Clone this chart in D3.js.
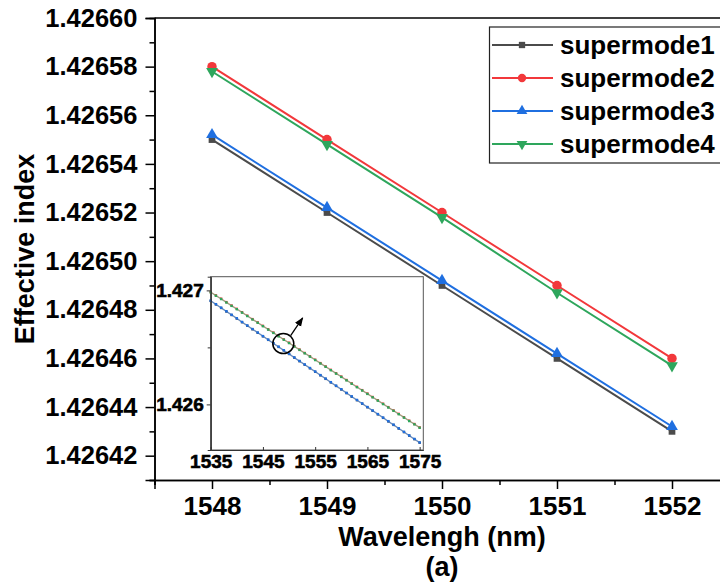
<!DOCTYPE html>
<html lang="en">
<head>
<meta charset="UTF-8">
<title>Effective index</title>
<script src="https://cdn.jsdelivr.net/npm/d3@7/dist/d3.min.js"></script>
<style>
  body { margin: 0; background: #fff; }
  svg text { font-family: "Liberation Sans", Arial, sans-serif; font-weight: bold; fill: #000; }
  .axis path, .axis line { stroke: #000; stroke-width: 1.5px; }
  .inset .axis path, .inset .axis line { stroke-width: 1px; stroke: #333; }
</style>
</head>
<body>
<div id="chart"></div>
<script>
// main chart data
var wavelength = [1548, 1549, 1550, 1551, 1552];
var supermode1 = [1.426550, 1.426520, 1.426490, 1.426460, 1.426430];
var supermode2 = [1.426580, 1.426550, 1.426520, 1.426490, 1.426460];
var supermode3 = [1.426552, 1.426522, 1.426492, 1.426462, 1.426432];
var supermode4 = [1.426578, 1.426548, 1.426518, 1.426487, 1.426457];
var xTicks = [1548, 1549, 1550, 1551, 1552];
var xMinor = [1547.5, 1548.5, 1549.5, 1550.5, 1551.5, 1552.5];
var yTicks = [1.42642, 1.42644, 1.42646, 1.42648, 1.42650, 1.42652, 1.42654, 1.42656, 1.42658, 1.42660];
var yMinor = [1.42641, 1.42643, 1.42645, 1.42647, 1.42649, 1.42651, 1.42653, 1.42655, 1.42657, 1.42659];

// inset data (1535-1575 nm)
var insetWl = [1535, 1536, 1537, 1538, 1539, 1540, 1541, 1542, 1543, 1544,
               1545, 1546, 1547, 1548, 1549, 1550, 1551, 1552, 1553, 1554,
               1555, 1556, 1557, 1558, 1559, 1560, 1561, 1562, 1563, 1564,
               1565, 1566, 1567, 1568, 1569, 1570, 1571, 1572, 1573, 1574, 1575];
var inset1 = [1.426908, 1.426877, 1.426846, 1.426815, 1.426784, 1.426753, 1.426721, 1.426690, 1.426659, 1.426628,
              1.426597, 1.426566, 1.426535, 1.426504, 1.426473, 1.426442, 1.426410, 1.426379, 1.426348, 1.426317,
              1.426286, 1.426255, 1.426224, 1.426193, 1.426162, 1.426131, 1.426099, 1.426068, 1.426037, 1.426006,
              1.425975, 1.425944, 1.425913, 1.425882, 1.425851, 1.425820, 1.425788, 1.425757, 1.425726, 1.425695, 1.425664];
var inset2 = [1.426986, 1.426956, 1.426927, 1.426897, 1.426867, 1.426838, 1.426808, 1.426778, 1.426748, 1.426719,
              1.426689, 1.426659, 1.426630, 1.426600, 1.426570, 1.426541, 1.426511, 1.426481, 1.426451, 1.426422,
              1.426392, 1.426362, 1.426333, 1.426303, 1.426273, 1.426244, 1.426214, 1.426184, 1.426154, 1.426125,
              1.426095, 1.426065, 1.426036, 1.426006, 1.425976, 1.425947, 1.425917, 1.425887, 1.425857, 1.425828, 1.425798];
var inset3 = [1.426910, 1.426879, 1.426848, 1.426817, 1.426786, 1.426755, 1.426723, 1.426692, 1.426661, 1.426630,
              1.426599, 1.426568, 1.426537, 1.426506, 1.426475, 1.426444, 1.426412, 1.426381, 1.426350, 1.426319,
              1.426288, 1.426257, 1.426226, 1.426195, 1.426164, 1.426133, 1.426101, 1.426070, 1.426039, 1.426008,
              1.425977, 1.425946, 1.425915, 1.425884, 1.425853, 1.425822, 1.425790, 1.425759, 1.425728, 1.425697, 1.425666];
var inset4 = [1.426983, 1.426953, 1.426924, 1.426894, 1.426864, 1.426835, 1.426805, 1.426775, 1.426745, 1.426716,
              1.426686, 1.426656, 1.426627, 1.426597, 1.426567, 1.426538, 1.426508, 1.426478, 1.426448, 1.426419,
              1.426389, 1.426359, 1.426330, 1.426300, 1.426270, 1.426241, 1.426211, 1.426181, 1.426151, 1.426122,
              1.426092, 1.426062, 1.426033, 1.426003, 1.425973, 1.425944, 1.425914, 1.425884, 1.425854, 1.425825, 1.425795];
var insetXTicks = [1535, 1545, 1555, 1565, 1575];
var insetYTicks = [1.426, 1.427];
var insetYMinor = [1.4265];

var names = ["supermode1", "supermode2", "supermode3", "supermode4"];
var colors = ["#4b4b4b", "#f2383b", "#1f6fe0", "#2ea65c"];
var symbols = [d3.symbolSquare, d3.symbolCircle, d3.symbolTriangle, d3.symbolTriangle];

var width = 720, height = 584;
var svg = d3.select("#chart").append("svg")
    .attr("width", width)
    .attr("height", height);

var x = d3.scaleLinear().domain([1547.5, 1552.5]).range([154.5, 729.5]);
var y = d3.scaleLinear().domain([1.42641, 1.4266]).range([480, 18]);

// frame top line
svg.append("line")
    .attr("x1", x(1547.5)).attr("x2", x(1552.5))
    .attr("y1", y(1.4266)).attr("y2", y(1.4266))
    .attr("stroke", "#000").attr("stroke-width", 1.5);

// axes
svg.append("g")
    .attr("class", "axis")
    .attr("transform", "translate(0," + y(1.42641) + ")")
    .call(d3.axisBottom(x).tickValues(xMinor).tickSize(5).tickFormat(""));
svg.append("g")
    .attr("class", "axis")
    .attr("transform", "translate(0," + y(1.42641) + ")")
    .call(d3.axisBottom(x).tickValues(xTicks).tickSize(9).tickPadding(8).tickFormat(d3.format("d")))
    .selectAll("text").style("font-size", "26px");

svg.append("g")
    .attr("class", "axis")
    .attr("transform", "translate(" + x(1547.5) + ",0)")
    .call(d3.axisLeft(y).tickValues(yMinor).tickSize(5).tickFormat(""));
svg.append("g")
    .attr("class", "axis")
    .attr("transform", "translate(" + x(1547.5) + ",0)")
    .call(d3.axisLeft(y).tickValues(yTicks).tickSize(9).tickPadding(8).tickFormat(d3.format(".5f")))
    .selectAll("text").style("font-size", "25.5px");

svg.selectAll(".axis .domain").attr("stroke-width", 1.5);

// axis titles
svg.append("text")
    .attr("transform", "translate(34," + ((y(1.42641) + y(1.4266)) / 2) + ") rotate(-90)")
    .attr("text-anchor", "middle")
    .style("font-size", "27px")
    .text("Effective index");
svg.append("text")
    .attr("x", 442).attr("y", 546)
    .attr("text-anchor", "middle")
    .style("font-size", "27px")
    .text("Wavelengh (nm)");
svg.append("text")
    .attr("x", 442).attr("y", 576)
    .attr("text-anchor", "middle")
    .style("font-size", "27px")
    .text("(a)");

// series
var series = [supermode1, supermode2, supermode3, supermode4];
var line = d3.line()
    .x(function (d, i) { return x(wavelength[i]); })
    .y(function (d) { return y(d); });

var serie = svg.selectAll(".serie")
    .data(series)
    .enter()
    .append("g")
    .attr("class", "serie");

serie.append("path")
    .attr("fill", "none")
    .attr("stroke", function (d, i) { return colors[i]; })
    .attr("stroke-width", 2)
    .attr("d", line);

function marker(sel, k, size) {
    sel.attr("d", d3.symbol().type(symbols[k]).size(size))
        .attr("fill", colors[k]);
}
serie.each(function (s, k) {
    d3.select(this).selectAll("path.pt")
        .data(s)
        .enter()
        .append("path")
        .attr("class", "pt")
        .call(marker, k, k === 1 ? 70 : (k === 0 ? 45 : 60))
        .attr("transform", function (d, i) {
            return "translate(" + x(wavelength[i]) + "," + y(d) + ")" + (k === 3 ? " rotate(180)" : "");
        });
});

// legend
var legend = svg.append("g");
legend.append("rect")
    .attr("x", 489.5).attr("y", 27)
    .attr("width", 240).attr("height", 136)
    .attr("fill", "#fff")
    .attr("stroke", "#222")
    .attr("stroke-width", 1.2);
var item = legend.selectAll(".item")
    .data(names)
    .enter()
    .append("g")
    .attr("class", "item")
    .attr("transform", function (d, i) { return "translate(0," + (45 + i * 33) + ")"; });
item.append("line")
    .attr("x1", 492).attr("x2", 553)
    .attr("stroke", function (d, i) { return colors[i]; })
    .attr("stroke-width", 2);
item.append("path")
    .each(function (d, i) {
        d3.select(this).call(marker, i, i === 1 ? 55 : (i === 0 ? 40 : 50))
            .attr("transform", "translate(522,0)" + (i === 3 ? " rotate(180)" : ""));
    });
item.append("text")
    .attr("x", 560)
    .attr("dy", "0.35em")
    .style("font-size", "26px")
    .text(function (d) { return d; });

// inset
var xi = d3.scaleLinear().domain([1535, 1575.7]).range([210.7, 423.3]);
var yi = d3.scaleLinear().domain([1.4256, 1.42712]).range([450, 276.7]);
var inset = svg.append("g").attr("class", "inset");

inset.append("rect")
    .attr("x", xi(1535)).attr("y", yi(1.42712))
    .attr("width", xi(1575.7) - xi(1535))
    .attr("height", yi(1.4256) - yi(1.42712))
    .attr("fill", "#fff")
    .attr("stroke", "#555")
    .attr("stroke-width", 1);

var insetSeries = [inset1, inset2, inset3, inset4];
var iline = d3.line()
    .x(function (d, i) { return xi(insetWl[i]); })
    .y(function (d) { return yi(d); });
insetSeries.forEach(function (s, k) {
    inset.append("path")
        .attr("d", iline(s))
        .attr("fill", "none")
        .attr("stroke", colors[k])
        .attr("stroke-opacity", 0.5)
        .attr("stroke-width", 1.2);
    inset.selectAll(".ip" + k)
        .data(s)
        .enter()
        .append("rect")
        .attr("class", "ip" + k)
        .attr("x", function (d, i) { return xi(insetWl[i]) - 1.2; })
        .attr("y", function (d) { return yi(d) - 1.2; })
        .attr("width", 2.4).attr("height", 2.4)
        .attr("fill", colors[k]);
});

inset.append("g")
    .attr("class", "axis")
    .attr("transform", "translate(0,450)")
    .call(d3.axisBottom(xi).tickValues(insetXTicks).tickSizeInner(-3).tickSizeOuter(0).tickPadding(5).tickFormat(d3.format("d")))
    .selectAll("text").style("font-size", "19px").style("stroke", "#000").style("stroke-width", 0.6);
inset.append("g")
    .attr("class", "axis")
    .attr("transform", "translate(" + xi(1535) + ",0)")
    .call(d3.axisLeft(yi).tickValues(insetYMinor).tickSize(3).tickFormat(""));
inset.append("g")
    .attr("class", "axis")
    .attr("transform", "translate(" + xi(1535) + ",0)")
    .call(d3.axisLeft(yi).tickValues(insetYTicks).tickSizeInner(4).tickSizeOuter(0).tickPadding(3).tickFormat(d3.format(".3f")))
    .selectAll("text").style("font-size", "19px").style("stroke", "#000").style("stroke-width", 0.6);

// circle and arrow marking the zoomed region
var mark = {x: 1548.9, y: 1.426534};
var arrowFrom = {x: 1550.3, y: 1.426604};
var arrowTo = {x: 1552.6, y: 1.426758};
inset.append("ellipse")
    .attr("cx", xi(mark.x)).attr("cy", yi(mark.y))
    .attr("rx", 10.5).attr("ry", 10)
    .attr("fill", "none")
    .attr("stroke", "#000")
    .attr("stroke-width", 1.5);
svg.append("defs").append("marker")
    .attr("id", "arrow")
    .attr("viewBox", "0 0 10 10")
    .attr("refX", 9).attr("refY", 5)
    .attr("markerWidth", 7).attr("markerHeight", 7)
    .attr("orient", "auto")
    .append("path")
    .attr("d", "M0,1L10,5L0,9Z")
    .attr("fill", "#000");
inset.append("line")
    .attr("x1", xi(arrowFrom.x)).attr("y1", yi(arrowFrom.y))
    .attr("x2", xi(arrowTo.x)).attr("y2", yi(arrowTo.y))
    .attr("stroke", "#000")
    .attr("stroke-width", 1.3)
    .attr("marker-end", "url(#arrow)");
</script>
</body>
</html>
